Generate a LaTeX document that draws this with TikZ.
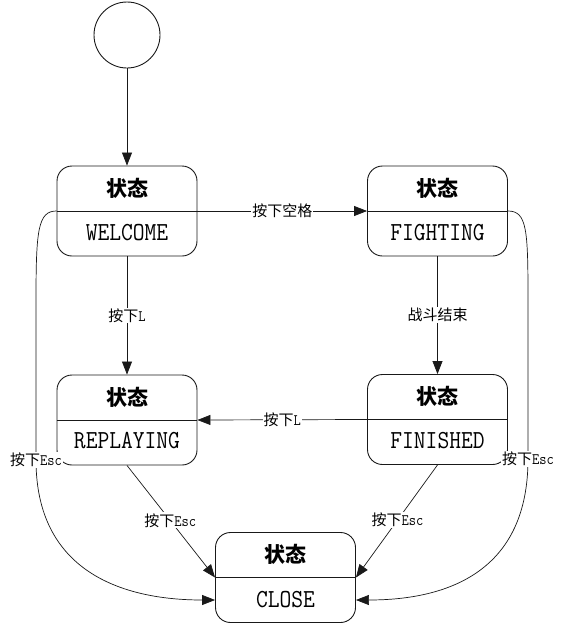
\documentclass[tikz,border=0pt]{standalone}
\usepackage{fontspec}
\newfontfamily\cjk{Noto Sans CJK SC}
\newfontfamily\mono[FakeStretch=0.88]{Latin Modern Mono}
\usetikzlibrary{arrows.meta,calc}
\begin{document}
\begin{tikzpicture}[x=1pt,y=-1pt,
 state/.style={draw=black!90, rounded corners=15pt, minimum width=140pt, minimum height=90pt, line width=0.9pt, inner sep=0pt},
 titl/.style={inner sep=0pt, font=\fontsize{21}{21}\selectfont\cjk\bfseries},
 nm/.style={inner sep=0pt, font=\fontsize{26}{26}\selectfont\mono},
 arr/.style={-{Triangle[length=13pt,width=10pt]}, line width=0.7pt, draw=black!90},
 lab/.style={fill=white, inner sep=1pt, font=\fontsize{15}{15}\selectfont\cjk},
 divline/.style={draw=black!90, line width=0.9pt},
]
\useasboundingbox (0,0) rectangle (565,624);
% start
\node[draw=black!90, line width=0.9pt, circle, minimum size=66pt, inner sep=0pt] (s) at (127,35) {};
% states
\node[state] (w) at (127,211) {};
\node[state] (f) at (437.5,211) {};
\node[state] (r) at (127,420) {};
\node[state] (fi) at (437.5,419.5) {};
\node[state] (c) at (285.5,577.5) {};
\foreach \n in {w,f,r,fi,c} { \draw[divline] (\n.west) -- (\n.east); }
\node[titl] (wt) at (127,188) {状态};
\node[nm] (wn) at (127,233) {WELCOME};
\node[titl] (ft) at (437.5,188) {状态};
\node[nm] (fn) at (437.5,233) {FIGHTING};
\node[titl] (rt) at (127,397) {状态};
\node[nm] (rn) at (127,441) {REPLAYING};
\node[titl] (fit) at (437.5,396) {状态};
\node[nm] (fin) at (437.5,441) {FINISHED};
\node[titl] (ct) at (285.5,554) {状态};
\node[nm] (cn) at (285.5,600) {CLOSE};
\coordinate (cin1) at ($(c.west)+(0,22.5)$);
\coordinate (cin2) at ($(c.east)+(0,22.5)$);
\newcommand\lt[1]{{\fontsize{16}{15}\selectfont\mono #1}}
% connectors
\draw[arr] (s.south) -- (w.north);
\draw[arr] (w.east) -- node[lab] {按下空格} (f.west);
\draw[arr] (w.south) -- node[lab] {按下\lt{L}} (r.north);
\draw[arr] (f.south) -- node[lab] {战斗结束} (fi.north);
\draw[arr] (fi.west) -- node[lab] {按下\lt{L}} (r.east);
\draw[arr] (r.south) -- node[lab, pos=0.49] {按下\lt{Esc}} (c.west);
\draw[arr] (fi.south) -- node[lab, pos=0.49] {按下\lt{Esc}} (c.east);
\draw[arr] (w.west) .. controls (38,211) and (36,230) .. (36,300) -- (36,460)
  node[lab] {按下\lt{Esc}}
  .. controls (36,570) and (120,600) .. (cin1);
\draw[arr] (f.east) .. controls (527,211) and (528,230) .. (528,300) -- (528,459)
  node[lab] {按下\lt{Esc}}
  .. controls (528,570) and (450,600) .. (cin2);
\end{tikzpicture}
\end{document}
